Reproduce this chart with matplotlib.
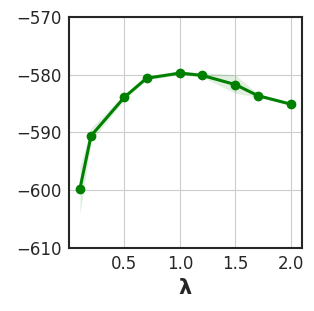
import numpy as np
import matplotlib; matplotlib.use('Agg')
import matplotlib.pyplot as plt

lam = [0.1, 0.2, 0.5, 0.7, 1.0, 1.2, 1.5, 1.7, 2.0]
score = [-599.8, -590.6, -583.9, -580.6, -579.7, -580.1, -581.7, -583.6, -585.1]
band_lo = [-604.2, -591.6, -584.3, -580.9, -580.0, -580.4, -583.2, -583.9, -585.3]
band_hi = [-596.0, -589.2, -583.4, -580.3, -579.4, -579.6, -580.0, -583.3, -584.9]

fig = plt.figure(figsize=(3.14, 3.11), dpi=100)
ax = fig.add_axes([0.219, 0.203, 0.743, 0.742])
ax.fill_between(lam, band_lo, band_hi, color='green', alpha=0.12, lw=0)
ax.plot(lam, score, 'o-', color='green', lw=2.2, ms=6)
ax.set_xlim(0.0, 2.1); ax.set_ylim(-610, -570)
ax.set_xticks([0.5, 1.0, 1.5, 2.0]); ax.set_yticks([-610, -600, -590, -580, -570])
ax.grid(color='#cccccc', lw=0.8); ax.set_axisbelow(True)
ax.tick_params(length=0, labelsize=12, colors='#262626', pad=5)
for s in ax.spines.values():
    s.set_color('#262626'); s.set_linewidth(1.5)
ax.set_xlabel('λ', fontsize=15, fontweight='bold', color='#262626', labelpad=4)
fig.savefig('out.png', dpi=100)
